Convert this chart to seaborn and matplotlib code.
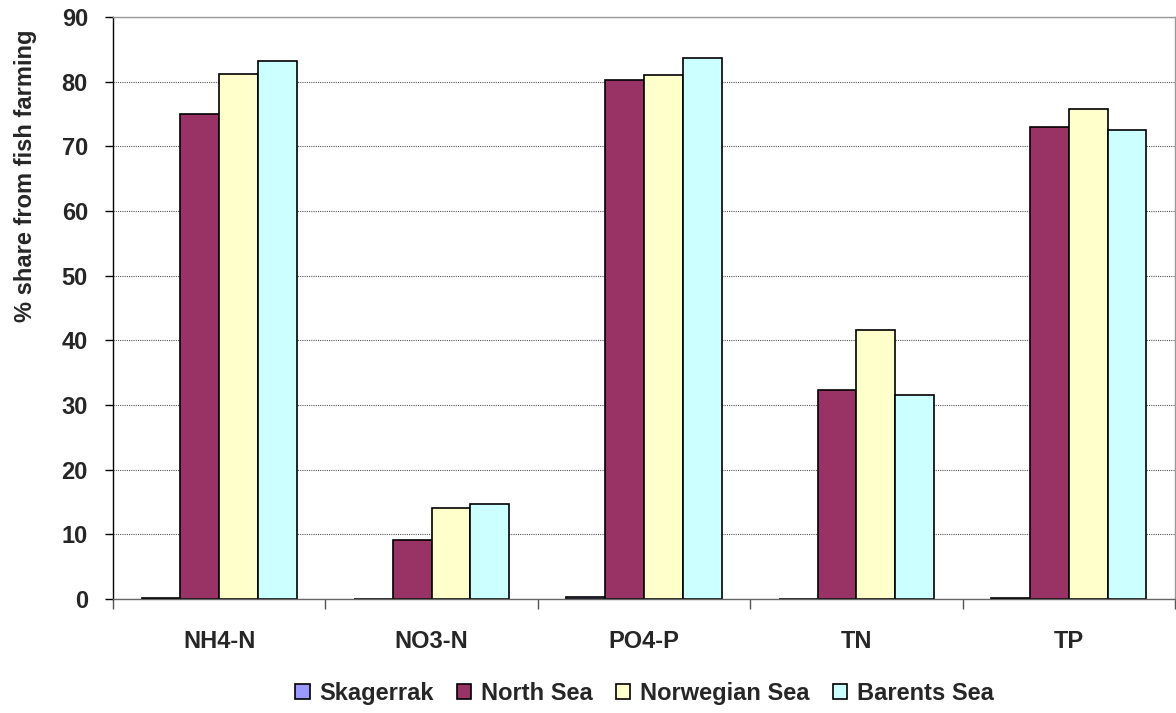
import numpy as np
import pandas as pd
import seaborn as sns
import matplotlib.pyplot as plt

# values
parameters = ['NH4-N', 'NO3-N', 'PO4-P', 'TN', 'TP']
seas = ['Skagerrak', 'North Sea', 'Norwegian Sea', 'Barents Sea']
skagerrak = [0.2, 0.05, 0.3, 0.05, 0.2]
north_sea = [75.0, 9.2, 80.3, 32.3, 73.0]
norwegian_sea = [81.2, 14.1, 81.0, 41.6, 75.7]
barents_sea = [83.2, 14.7, 83.6, 31.6, 72.6]
colors = ['#9999FF', '#993366', '#FFFFCC', '#CCFFFF']

rows = []
for sea, vals in zip(seas, [skagerrak, north_sea, norwegian_sea, barents_sea]):
    for p, v in zip(parameters, vals):
        rows.append({'parameter': p, 'sea': sea, 'share': v})
df = pd.DataFrame(rows)

sns.set_style('white')
plt.rcParams['font.family'] = ['Liberation Sans', 'DejaVu Sans']
plt.rcParams['font.weight'] = 'bold'

fig = plt.figure(figsize=(11.76, 7.13), dpi=100)
ax = fig.add_axes([113 / 1176, 1 - 599 / 713, (1175 - 113) / 1176, (599 - 17) / 713])

sns.barplot(data=df, x='parameter', y='share', hue='sea', order=parameters,
            hue_order=seas, palette=colors, width=0.73, edgecolor='black',
            linewidth=1.2, saturation=1, errorbar=None, ax=ax)

ax.set_ylim(0, 90)
ax.set_xlim(-0.5, 4.5)
ax.set_yticks(range(0, 91, 10))
ax.yaxis.grid(True, color='#555555', linestyle=(0, (1, 1)), linewidth=0.8)
ax.set_axisbelow(True)

ax.set_xlabel('')
ax.set_ylabel('% share from fish farming', fontsize=17, fontweight='bold', labelpad=18)
ax.yaxis.label.set_y(0.728)
ax.tick_params(axis='y', direction='out', length=6, width=1, color='black',
               labelsize=17, left=True, pad=12)
ax.tick_params(axis='x', which='major', length=0, labelsize=17, pad=22)
ax.set_xticks(np.arange(-0.5, 5, 1), minor=True)
ax.tick_params(axis='x', which='minor', direction='out', length=7, width=1,
               color='#555555', bottom=True)
for lbl in ax.get_xticklabels() + ax.get_yticklabels():
    lbl.set_fontweight('bold')

ax.spines['left'].set_color('black')
ax.spines['bottom'].set_color('#666666')
ax.spines['top'].set_color('#999999')
ax.spines['right'].set_color('#999999')
for s in ax.spines.values():
    s.set_linewidth(1)

handles, labels = ax.get_legend_handles_labels()
ax.get_legend().remove()
fig.legend(handles, labels, loc='center', bbox_to_anchor=(0.548, 0.028),
           ncol=4, frameon=False, handlelength=0.6,
           handleheight=0.6, handletextpad=0.4, columnspacing=1.0,
           prop={'weight': 'bold', 'size': 17})

fig.savefig('out.png', dpi=100)
